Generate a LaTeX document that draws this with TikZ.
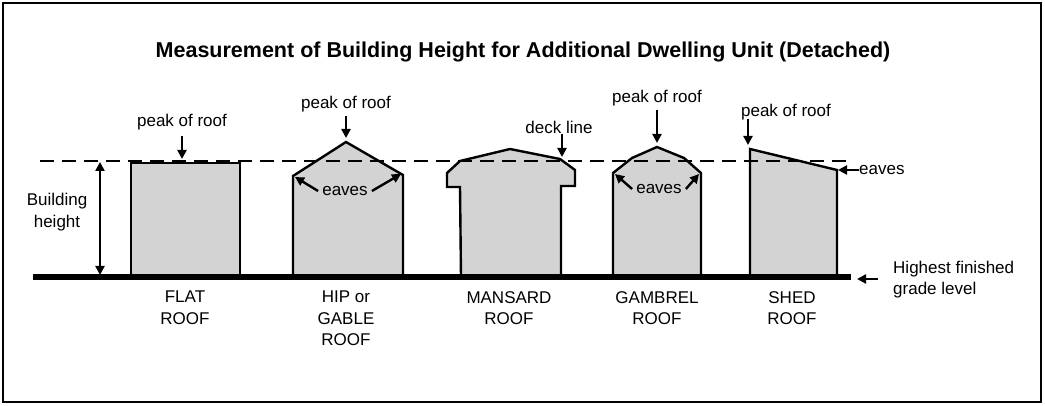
\documentclass[tikz,border=0pt]{standalone}
\usepackage{fontspec}
\setmainfont{Liberation Sans}
\usetikzlibrary{arrows.meta}
\definecolor{bgray}{RGB}{211,211,211}
\tikzset{
  bld/.style={fill=bgray,draw=black,line width=2.4pt,line join=miter},
  lbl/.style={font=\fontsize{17}{19}\selectfont,inner sep=0pt},
  rlbl/.style={font=\fontsize{17}{21.5}\selectfont,align=center,inner sep=0pt,anchor=north},
  arr/.style={-{Triangle[length=9pt,width=9pt]},line width=2.4pt},
}
\begin{document}
\begin{tikzpicture}[x=1pt,y=-1pt]
\useasboundingbox (0,0) rectangle (1045,406);
\draw[line width=1.5pt] (3,3) rectangle (1041,402);
\node[font=\bfseries\fontsize{21.5}{24}\selectfont] (title) at (523,52) {Measurement of Building Height for Additional Dwelling Unit (Detached)};
% buildings
\draw[bld] (131,277) -- (131,163) -- (240,163) -- (240,277) -- cycle;
\draw[bld] (293,277) -- (293,176) -- (346,142) -- (403,175) -- (403,277) -- cycle;
\draw[bld] (461,277) -- (460,187) -- (447,187) -- (447,173) -- (460,161) -- (510,149) -- (560,159) -- (575,170) -- (575,186) -- (561,186) -- (561,277) -- cycle;
\draw[bld] (613,277) -- (613,173) -- (632,158) -- (657,147) -- (684,158) -- (701,173) -- (701,277) -- cycle;
\draw[bld] (750,277) -- (750,149) -- (837,170) -- (837,277) -- cycle;
% lines
\coordinate (dl) at (40,161); \coordinate (dr) at (850,161);
\draw[dash pattern=on 14pt off 8pt,line width=2.4pt] (dl) -- (dr);
\coordinate (gl) at (33,277); \coordinate (gr) at (851,277);
\draw[line width=5.5pt] (gl) -- (gr);
% building height
\coordinate (ht) at (100,162); \coordinate (hb) at (100,275);
\draw[{Triangle[length=9pt,width=9pt]}-{Triangle[length=9pt,width=9pt]},line width=2.4pt] (ht) -- (hb);
\node[lbl,align=center,font=\fontsize{17}{22}\selectfont] (bh) at (57,212) {Building\\height};
% flat
\node[lbl] (pf) at (182,122) {peak of roof};
\coordinate (pft) at (182,159);
\draw[arr] (182,136) -- (pft);
% hip
\node[lbl] (ph) at (346,104) {peak of roof};
\coordinate (pht) at (346,138);
\draw[arr] (346,116) -- (pht);
\node[lbl] (eh) at (345,191) {eaves};
\coordinate (ehl) at (295,177); \coordinate (ehr) at (401,174);
\draw[arr] ([xshift=-4pt]eh.west) -- (ehl);
\draw[arr] ([xshift=4pt]eh.east) -- (ehr);
% mansard
\node[lbl] (dk) at (559,127) {deck line};
\coordinate (dkt) at (562,157);
\draw[arr] (562,134) -- (dkt);
% gambrel
\node[lbl] (pg) at (657,98) {peak of roof};
\coordinate (pgt) at (657,143);
\draw[arr] (657,110) -- (pgt);
\node[lbl] (eg) at (659,189) {eaves};
\coordinate (egl) at (615,174); \coordinate (egr) at (699,174);
\draw[arr] ([xshift=-4pt]eg.west) -- (egl);
\draw[arr] ([xshift=4pt]eg.east) -- (egr);
% shed
\node[lbl] (ps) at (786,112) {peak of roof};
\coordinate (pst) at (748,145);
\draw[arr] (748,119) -- (pst);
\node[lbl,anchor=west] (es) at (859,170) {eaves};
\coordinate (est) at (838,170);
\draw[arr] (es.west) -- (est);
% grade
\node[lbl,anchor=west,align=left,font=\fontsize{17}{21}\selectfont] (gd) at (893,280) {Highest finished\\grade level};
\coordinate (gdt) at (857,279);
\draw[arr] (878,279) -- (gdt);
% roof labels
\node[rlbl] (r1) at (185,291) {FLAT\\ROOF};
\node[rlbl] (r2) at (346,291) {HIP or\\GABLE\\ROOF};
\node[rlbl] (r3) at (509,291) {MANSARD\\ROOF};
\node[rlbl] (r4) at (657,291) {GAMBREL\\ROOF};
\node[rlbl] (r5) at (792,291) {SHED\\ROOF};
\end{tikzpicture}
\end{document}
